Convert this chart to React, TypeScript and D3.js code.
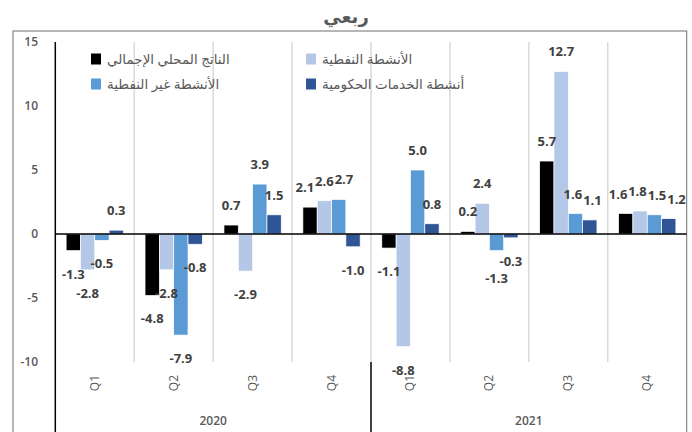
import React, { useEffect, useRef } from "react";
import * as d3 from "d3";

const title = "ربعي";
const years = ["2020", "2021"];
const quarters = ["Q1", "Q2", "Q3", "Q4"];
const seriesNames = [
  "الناتج المحلي الإجمالي",
  "الأنشطة النفطية",
  "الأنشطة غير النفطية",
  "أنشطة الخدمات الحكومية",
];
const seriesColors = ["#000000", "#b4c7e7", "#5b9bd5", "#2f5597"];
const gdp = [-1.3, -4.8, 0.7, 2.1, -1.1, 0.2, 5.7, 1.6];
const oil = [-2.8, -2.8, -2.9, 2.6, -8.8, 2.4, 12.7, 1.8];
const nonOil = [-0.5, -7.9, 3.9, 2.7, 5.0, -1.3, 1.6, 1.5];
const gov = [0.3, -0.8, 1.5, -1.0, 0.8, -0.3, 1.1, 1.2];
const yTicks = [-10, -5, 0, 5, 10, 15];

const W = 692;
const H = 432;
const FONT = "'Open Sans', 'DejaVu Sans', sans-serif";

const App = () => {
  const ref = useRef<SVGSVGElement>(null);

  useEffect(() => {
    const svg = d3.select(ref.current);
    svg.selectAll("*").remove();

    const series = [gdp, oil, nonOil, gov];
    const cats = years.flatMap((yr) => quarters.map((q) => `${yr}-${q}`));

    const left = 55.3;
    const right = 686.7;
    const top = 42;
    const bottom = 362;

    const x0 = d3
      .scaleBand<string>()
      .domain(cats)
      .range([left, right])
      .paddingInner(0.274)
      .paddingOuter(0.137);
    const x1 = d3
      .scaleBand<number>()
      .domain(d3.range(series.length))
      .range([0, x0.bandwidth()]);
    const y = d3.scaleLinear().domain([-10, 15]).range([bottom, top]);
    const step = x0.step();

    // outer frame
    svg
      .append("rect")
      .attr("x", 13)
      .attr("y", 31)
      .attr("width", right - 13)
      .attr("height", H)
      .attr("fill", "none")
      .attr("stroke", "#6e6e6e")
      .attr("stroke-width", 1);

    // title
    svg
      .append("text")
      .attr("x", 346)
      .attr("y", 23)
      .attr("text-anchor", "middle")
      .attr("font-family", FONT)
      .attr("font-size", 18)
      .attr("font-weight", 700)
      .attr("fill", "#595959")
      .text(title);

    // category separators inside the plot
    svg
      .append("g")
      .selectAll("line")
      .data(cats.slice(1))
      .join("line")
      .attr("x1", (d) => x0(d)! - (step - x0.bandwidth()) / 2)
      .attr("x2", (d) => x0(d)! - (step - x0.bandwidth()) / 2)
      .attr("y1", top)
      .attr("y2", bottom)
      .attr("stroke", "#d9d9d9")
      .attr("stroke-width", 1.5);

    // y tick labels
    svg
      .append("g")
      .selectAll("text")
      .data(yTicks)
      .join("text")
      .attr("x", 38)
      .attr("y", (d) => y(d) + 4)
      .attr("text-anchor", "end")
      .attr("font-family", FONT)
      .attr("font-size", 12)
      .attr("font-weight", 600)
      .attr("fill", "#595959")
      .text((d) => d);

    // bars
    const g = svg.append("g");
    series.forEach((vals, si) => {
      g.selectAll(`.bar-${si}`)
        .data(vals)
        .join("rect")
        .attr("class", `bar-${si}`)
        .attr("x", (_, i) => x0(cats[i])! + x1(si)!)
        .attr("width", x1.bandwidth())
        .attr("y", (d) => y(Math.max(0, d)))
        .attr("height", (d) => Math.abs(y(d) - y(0)))
        .attr("fill", seriesColors[si])
        .attr("stroke", "#ffffff")
        .attr("stroke-width", 0.7);
    });

    // zero line and y axis line
    svg
      .append("line")
      .attr("x1", left)
      .attr("x2", right)
      .attr("y1", y(0))
      .attr("y2", y(0))
      .attr("stroke", "#000")
      .attr("stroke-width", 1.5);
    svg
      .append("line")
      .attr("x1", left)
      .attr("x2", left)
      .attr("y1", top)
      .attr("y2", H)
      .attr("stroke", "#000")
      .attr("stroke-width", 1.5);

    // year separator below the plot
    svg
      .append("line")
      .attr("x1", (left + right) / 2)
      .attr("x2", (left + right) / 2)
      .attr("y1", bottom)
      .attr("y2", H)
      .attr("stroke", "#000")
      .attr("stroke-width", 1.5);

    // data labels
    const labels: { node: SVGTextElement; cat: number; v: number; x: number; y: number; w: number }[] = [];
    series.forEach((vals, si) => {
      g.selectAll(`.lbl-${si}`)
        .data(vals)
        .join("text")
        .attr("class", `lbl-${si}`)
        .attr("x", (_, i) => x0(cats[i])! + x1(si)! + x1.bandwidth() / 2)
        .attr("y", (d) => (d >= 0 ? y(d) - 15 : y(d) + 28))
        .attr("text-anchor", "middle")
        .attr("font-family", FONT)
        .attr("font-size", 13)
        .attr("font-weight", 700)
        .attr("fill", "#404040")
        .text((d) => d.toFixed(1))
        .each(function (d, i) {
          const el = this as SVGTextElement;
          labels.push({
            node: el,
            cat: i,
            v: d,
            x: +el.getAttribute("x")!,
            y: +el.getAttribute("y")!,
            w: el.getComputedTextLength(),
          });
        });
    });

    // untangle crowded labels within each quarter
    cats.forEach((_, ci) => {
      const row = labels.filter((l) => l.cat === ci).sort((a, b) => a.x - b.x);
      for (let pass = 0; pass < 6; pass++) {
        for (let k = 1; k < row.length; k++) {
          const a = row[k - 1];
          const b = row[k];
          const dy = Math.abs(a.y - b.y);
          const need = (a.w + b.w) / 2 + 1 - (b.x - a.x);
          if (need <= 0 || dy >= 17) continue;
          if (dy <= 10) {
            a.x -= need / 2;
            b.x += need / 2;
          } else {
            // push the one farther from zero a bit further out
            const far = Math.abs(a.v) > Math.abs(b.v) ? a : b;
            far.y += (far.v < 0 ? 1 : -1) * (17 - dy);
          }
        }
      }
      row.forEach((l) => {
        l.node.setAttribute("x", String(l.x));
        l.node.setAttribute("y", String(l.y));
      });
    });

    // quarter labels
    svg
      .append("g")
      .selectAll("text")
      .data(cats)
      .join("text")
      .attr("transform", (d) => {
        const cx = x0(d)! + x0.bandwidth() / 2;
        return `translate(${cx + 4},375) rotate(-90)`;
      })
      .attr("text-anchor", "end")
      .attr("font-family", FONT)
      .attr("font-size", 12)
      .attr("fill", "#595959")
      .text((d) => d.split("-")[1]);

    // year labels
    const yearW = (right - left) / years.length;
    svg
      .append("g")
      .selectAll("text")
      .data(years)
      .join("text")
      .attr("x", (_, i) => left + yearW * (i + 0.5))
      .attr("y", 425)
      .attr("text-anchor", "middle")
      .attr("font-family", FONT)
      .attr("font-size", 12)
      .attr("font-weight", 600)
      .attr("fill", "#595959")
      .text((d) => d);

    // legend (2 x 2)
    const legend = svg.append("g");
    seriesNames.forEach((name, i) => {
      const col = i % 2;
      const row = Math.floor(i / 2);
      const lx = 91 + col * 215;
      const ly = 59 + row * 25;
      legend
        .append("rect")
        .attr("x", lx)
        .attr("y", ly - 5.5)
        .attr("width", 10)
        .attr("height", 11)
        .attr("fill", seriesColors[i]);
      legend
        .append("text")
        .attr("x", lx + 16)
        .attr("y", ly + 4.5)
        .attr("text-anchor", "start")
        .attr("font-family", FONT)
        .attr("font-size", 13.5)
        .attr("fill", "#595959")
        .text(name);
    });
  }, []);

  return (
    <svg
      ref={ref}
      width={W}
      height={H}
      style={{ position: "absolute", left: 0, top: 0, background: "#fff" }}
    />
  );
};

export default App;
